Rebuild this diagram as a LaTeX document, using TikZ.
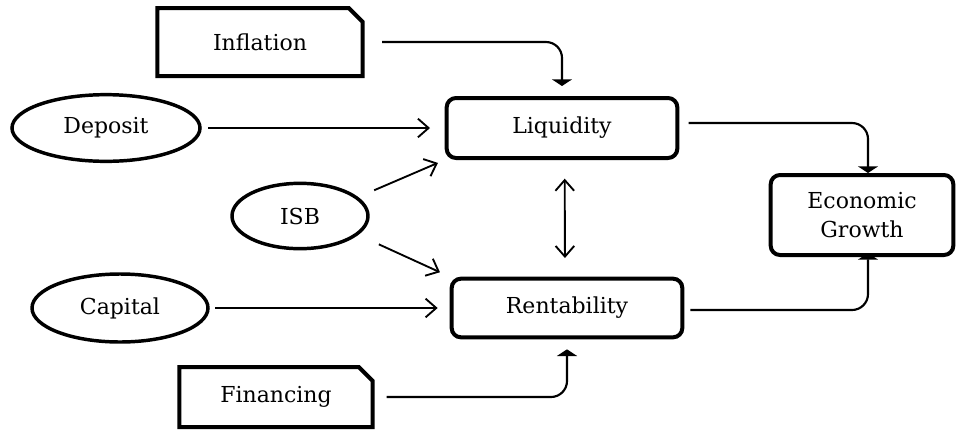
\documentclass[tikz,border=0pt]{standalone}
\usepackage{fontspec}
\setmainfont{DejaVu Serif}
\usetikzlibrary{shapes.geometric,shapes.misc,arrows.meta}

\begin{document}
\begin{tikzpicture}[
	x=0.75pt, y=-0.75pt,
	font=\fontsize{16.5}{22}\selectfont,
	block/.style={
		rectangle,
		rounded corners=7pt,
		draw,
		line width=3pt,
		align=center
	},
	source/.style={% boxes with one cut corner
		chamfered rectangle,
		chamfered rectangle corners=north east,
		chamfered rectangle xsep=7pt,
		draw,
		line width=3pt
	},
	factor/.style={
		ellipse,
		draw,
		line width=2.6pt
	},
	ArrowB/.style={% open arrows
		-{Straight Barb[length=8pt,width=14pt]},
		line width=1.4pt
	},
	ArrowF/.style={% flat heads with rounded corners
		-{Triangle[length=5pt,width=15pt]},
		rounded corners=12pt,
		line width=1.6pt
	},
]
	\useasboundingbox (0,0) rectangle (957,429);

	\node [source, minimum width=154pt, minimum height=51pt] (infl) at (260,42) {Inflation};
	\node [source, minimum width=145pt, minimum height=45pt] (fin) at (276,397) {Financing};

	\node [factor, minimum width=141pt, minimum height=50pt] (dep) at (106,128) {Deposit};
	\node [factor, minimum width=102pt, minimum height=49pt] (isb) at (300,216) {ISB};
	\node [factor, minimum width=132pt, minimum height=51pt] (cap) at (120,308) {Capital};

	\node [block, minimum width=173pt, minimum height=45pt] (liq) at (562,128) {Liquidity};
	\node [block, minimum width=173pt, minimum height=44pt] (rent) at (567,308) {Rentability};
	\node [block, minimum width=137pt, minimum height=60pt] (eg) at (862,215) {Economic\\Growth};

	\draw [ArrowF, shorten <=13pt, shorten >=7.5pt] (infl.east) -| (liq.north);
	\draw [ArrowF, shorten <=9pt, shorten >=7.5pt] (fin.east) -| (rent.south);

	\draw [ArrowB, shorten <=5pt, shorten >=11pt] (dep.east) -- (liq.west);
	\draw [ArrowB, shorten <=4pt, shorten >=9pt] (cap.east) -- (rent.west);
	\draw [ArrowB, shorten <=13pt, shorten >=5.5pt] (isb.18) -- (liq.south west);
	\draw [ArrowB, shorten <=17pt, shorten >=8pt] (isb.-18) -- (rent.north west);

	\draw [{Straight Barb[length=8pt,width=14pt]}-{Straight Barb[length=8pt,width=14pt]}, line width=1.4pt,
		shorten <=14pt, shorten >=14pt] ([xshift=2pt]liq.south) -- ([xshift=-1.5pt]rent.north);

	\draw [ArrowF, shorten <=7pt] ([yshift=3.75pt]liq.east) -| ([xshift=4.5pt]eg.north);
	\draw [ArrowF, shorten <=4.5pt, shorten >=-3pt] ([yshift=-1.5pt]rent.east) -| ([xshift=4.5pt]eg.south);
\end{tikzpicture}
\end{document}
